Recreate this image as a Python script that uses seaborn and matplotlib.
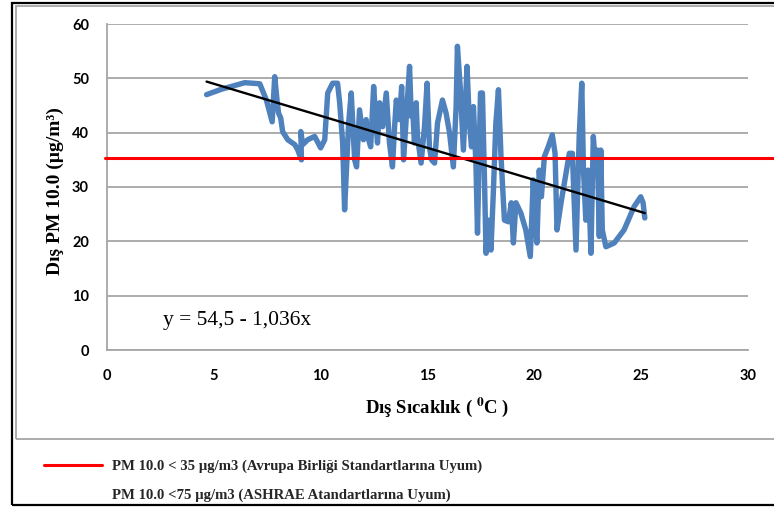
import matplotlib
matplotlib.use("Agg")
import numpy as np
import pandas as pd
import seaborn as sns
import matplotlib.pyplot as plt
from matplotlib.lines import Line2D
from matplotlib.patches import Rectangle

# ---- data ----
temp = [4.66, 5.36, 6.45, 7.15, 7.46, 7.62, 7.73, 7.85, 7.97, 8.03,
        8.13, 8.22, 8.46, 8.79, 8.93, 9.10, 9.07, 9.16, 9.39, 9.72,
        10.0, 10.19, 10.33, 10.56, 10.79, 10.89, 11.03, 11.12, 11.31, 11.43,
        11.59, 11.68, 11.82, 11.92, 12.0, 12.13, 12.2, 12.34, 12.48, 12.6,
        12.66, 12.76, 12.9, 13.07, 13.22, 13.36, 13.46, 13.54, 13.69, 13.79,
        13.88, 14.0, 14.16, 14.24, 14.3, 14.39, 14.47, 14.53, 14.7, 14.86,
        14.98, 15.09, 15.19, 15.33, 15.47, 15.7, 15.87, 16.03, 16.21, 16.34,
        16.4, 16.54, 16.68, 16.85, 16.96, 17.06, 17.15, 17.27, 17.34, 17.48,
        17.57, 17.66, 17.74, 17.85, 17.97, 18.08, 18.2, 18.32, 18.44, 18.6,
        18.79, 18.92, 19.02, 19.14, 19.37, 19.6, 19.81, 19.95, 20.0, 20.12,
        20.23, 20.33, 20.47, 20.65, 20.84, 20.97, 21.06, 21.25, 21.43, 21.64,
        21.78, 21.95, 22.1, 22.22, 22.3, 22.41, 22.52, 22.65, 22.76, 22.88,
        22.95, 23.04, 23.11, 23.18, 23.35, 23.74, 24.2, 24.67, 24.98, 25.09,
        25.17]
pm10 = [47.0, 48.0, 49.2, 49.0, 46.0, 43.6, 42.0, 50.3, 45.5, 43.6,
        42.7, 40.2, 38.7, 37.8, 36.8, 35.0, 40.2, 37.8, 38.7, 39.3,
        37.2, 38.7, 47.3, 49.1, 49.1, 45.5, 38.1, 25.8, 41.8, 47.3,
        35.0, 33.7, 44.2, 41.1, 38.7, 42.4, 39.3, 37.4, 48.5, 41.1,
        38.1, 45.5, 41.1, 47.3, 38.1, 33.7, 41.1, 46.0, 42.4, 48.5,
        35.0, 42.4, 52.2, 43.0, 44.8, 38.1, 45.5, 39.3, 34.4, 41.1,
        49.1, 37.4, 35.0, 34.4, 41.8, 46.0, 43.6, 40.0, 33.7, 44.8,
        55.9, 47.9, 36.8, 52.2, 41.8, 37.4, 44.8, 33.8, 21.5, 47.3,
        47.3, 32.6, 17.8, 23.9, 18.4, 28.9, 41.8, 47.9, 35.6, 23.9,
        23.6, 27.1, 19.7, 27.1, 25.2, 22.1, 17.2, 31.3, 25.8, 19.7,
        33.1, 28.2, 35.6, 37.4, 39.6, 36.2, 22.1, 27.1, 31.3, 36.2,
        36.2, 18.4, 39.3, 49.1, 33.1, 23.9, 33.1, 17.8, 39.3, 33.1,
        36.8, 20.9, 36.8, 22.1, 19.0, 19.7, 22.1, 26.4, 28.2, 27.1,
        24.3]

trend_intercept = 54.9
trend_slope = -1.18
eu_limit = 35.4

equation_text = "y = 54,5 - 1,036x"
x_label = "Dış Sıcaklık ( $^{\\mathbf{0}}$C )"
y_label = "Dış PM 10.0 (µg/m³)"
legend_labels = ["PM 10.0 < 35 µg/m3 (Avrupa Birliği Standartlarına Uyum)",
                 "PM 10.0 <75 µg/m3 (ASHRAE Atandartlarına Uyum)"]
x_ticks = [0, 5, 10, 15, 20, 25, 30]
y_ticks = [0, 10, 20, 30, 40, 50, 60]

# ---- drawing ----
sns.set_theme(style="white")
plt.rcParams["font.family"] = ["Liberation Serif", "DejaVu Serif"]
plt.rcParams["mathtext.fontset"] = "stix"

W, H = 774, 508
fig = plt.figure(figsize=(W / 100, H / 100), dpi=100)
fig.patch.set_facecolor("white")
ax = fig.add_axes([107 / W, 1 - 350 / H, (748 - 107) / W, (350 - 24) / H])
ax.set_facecolor("white")

# frames
fig.add_artist(Rectangle((12 / W, 3 / H), 1.2, 1 - 6 / H, transform=fig.transFigure,
                         fill=False, ec="black", lw=1.6, clip_on=False))
fig.add_artist(Rectangle((16 / W, 1 - 439 / H), 1.2, (439 - 6) / H, transform=fig.transFigure,
                         fill=False, ec="#A6A6A6", lw=1.3, clip_on=False))

df = pd.DataFrame({"temp": temp, "pm10": pm10})
sns.lineplot(data=df, x="temp", y="pm10", sort=False, estimator=None,
             color="#4F81BD", linewidth=3.9, ax=ax,
             solid_joinstyle="round", solid_capstyle="round", zorder=3)

tx = np.array([min(temp), max(temp)])
trend = pd.DataFrame({"x": tx, "y": trend_intercept + trend_slope * tx})
sns.lineplot(data=trend, x="x", y="y", color="black", linewidth=1.7, ax=ax, zorder=4)

ax.axhline(eu_limit, xmin=-0.003, xmax=1.041, color="red", lw=2.2, clip_on=False, zorder=5)

ax.set_xlim(0, 30)
ax.set_ylim(0, 60)
ax.set_xticks(x_ticks)
ax.set_yticks(y_ticks)
ax.yaxis.grid(True, color="#A6A6A6", lw=1.3)
ax.xaxis.grid(False)
ax.set_axisbelow(True)
for s in ["top", "right"]:
    ax.spines[s].set_visible(False)
for s in ["left", "bottom"]:
    ax.spines[s].set_color("#A6A6A6")
    ax.spines[s].set_linewidth(1.3)

ax.tick_params(axis="both", length=0)
ax.tick_params(axis="y", pad=13)
ax.tick_params(axis="x", pad=14)
for lab in ax.get_xticklabels() + ax.get_yticklabels():
    lab.set_fontfamily("Lato")
    lab.set_fontweight("bold")
    lab.set_fontsize(10.5)
    lab.set_color("black")

ax.set_xlabel(x_label, fontsize=13.5, fontweight="bold", family="Liberation Serif", color="black")
ax.set_ylabel(y_label, fontsize=14, fontweight="bold", family="Liberation Serif", color="black")
ax.xaxis.set_label_coords((437 - 107) / 641, (350 - 396) / 326)
ax.yaxis.set_label_coords((64 - 107) / 641, (350 - 191) / 326)

ax.text(2.6, 5.5, equation_text, fontsize=15.5, va="center", ha="left",
        family="Liberation Serif", color="black")

handles = [Line2D([], [], color="red", lw=2.2), Line2D([], [], color="none")]
fig.legend(handles, legend_labels, loc="upper left",
           bbox_to_anchor=(37 / W, 1 - 452 / H), frameon=False, borderpad=0,
           handlelength=3.9, handletextpad=0.7, labelspacing=1.05,
           prop={"family": "Liberation Serif", "weight": "bold", "size": 10.6})

fig.savefig("out.png", dpi=100)
